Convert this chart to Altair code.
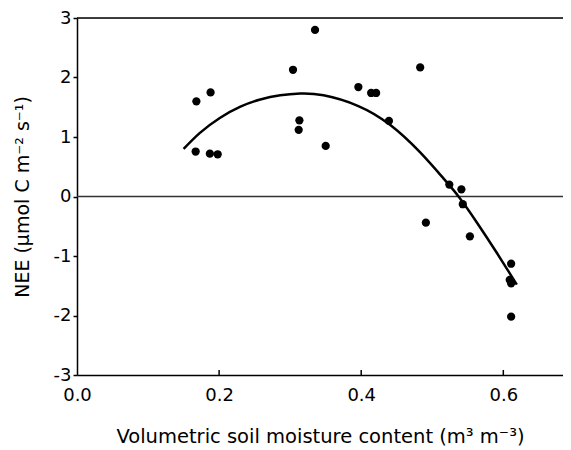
import altair as alt
import pandas as pd

# Observed data (volumetric soil moisture, NEE)
moisture = [0.168, 0.188, 0.167, 0.187, 0.198, 0.304, 0.313, 0.312, 0.335, 0.350,
            0.396, 0.414, 0.421, 0.439, 0.483, 0.491, 0.524, 0.541, 0.543, 0.553,
            0.611, 0.609, 0.611, 0.611]
nee = [1.60, 1.75, 0.756, 0.72, 0.71, 2.13, 1.28, 1.12, 2.80, 0.85,
       1.84, 1.74, 1.74, 1.27, 2.17, -0.44, 0.20, 0.12, -0.13, -0.67,
       -1.13, -1.40, -1.46, -2.02]

# Fitted curve
fit_x = [0.150, 0.173, 0.201, 0.230, 0.258, 0.286, 0.314, 0.347, 0.396, 0.441,
         0.483, 0.516, 0.537, 0.563, 0.591, 0.619]
fit_y = [0.80, 1.07, 1.32, 1.51, 1.63, 1.70, 1.73, 1.70, 1.52, 1.20,
         0.74, 0.30, 0.00, -0.44, -0.95, -1.48]

x_ticks = [0.2, 0.4, 0.6]
x_labels = [0.0, 0.2, 0.4, 0.6]
y_ticks = [-3, -2, -1, 0, 1, 2, 3]

df = pd.DataFrame({"x": moisture, "y": nee})
fit_df = pd.DataFrame({"x": fit_x, "y": fit_y})
tick_df = pd.DataFrame({"t": x_ticks})
zero_df = pd.DataFrame({"z": [0]})

FONT = "DejaVu Sans"
W, H = 486, 357

xscale = alt.Scale(domain=[0, 0.684], nice=False, zero=False)
yscale = alt.Scale(domain=[-3, 3], nice=False)

xaxis = alt.Axis(
    title="Volumetric soil moisture content (m³ m⁻³)",
    values=x_labels, format=".1f", ticks=False,
    labelPadding=11, labelFontSize=18, titleFontSize=19.5,
    labelFont=FONT, titleFont=FONT, labelColor="black", titleColor="black",
    titleFontWeight="normal", domainColor="black", domainWidth=1.5,
    grid=False, titleY=67, titleBaseline="alphabetic",
    labelFlush=False,
)
yaxis = alt.Axis(
    title="NEE (µmol C m⁻² s⁻¹)",
    values=y_ticks, tickSize=4, tickColor="black", tickWidth=1.5,
    labelExpr="datum.value < 0 ? '-' + abs(datum.value) : '' + datum.value",
    labelPadding=2, labelFontSize=18, titleFontSize=19,
    labelFont=FONT, titleFont=FONT, labelColor="black", titleColor="black",
    titleFontWeight="normal", domainColor="black", domainWidth=1.5,
    grid=False, titleX=-49, titleY=H / 2, titleAngle=-90,
    titleAlign="center", titleBaseline="alphabetic",
    labelFlush=False,
)

points = alt.Chart(df).mark_circle(size=68, color="black", opacity=1).encode(
    x=alt.X("x:Q", scale=xscale, axis=xaxis),
    y=alt.Y("y:Q", scale=yscale, axis=yaxis),
)

fit = alt.Chart(fit_df).mark_line(
    color="black", strokeWidth=2.5, interpolate="natural"
).encode(
    x=alt.X("x:Q", scale=xscale),
    y=alt.Y("y:Q", scale=yscale),
)

zero_line = alt.Chart(zero_df).mark_rule(color="#333333", strokeWidth=1.5).encode(
    y=alt.Y("z:Q", scale=yscale),
)

top_line = alt.Chart(zero_df).mark_rule(color="black", strokeWidth=1.5).encode(
    y=alt.value(0),
)

xticks = alt.Chart(tick_df).mark_rule(color="black", strokeWidth=1.5).encode(
    x=alt.X("t:Q", scale=xscale),
    y=alt.value(H - 5),
    y2=alt.value(H),
)

chart = alt.layer(zero_line, top_line, xticks, fit, points).properties(
    width=W, height=H,
    padding={"left": 69, "top": 10, "right": 0, "bottom": 72},
    autosize=alt.AutoSizeParams(type="none"),
).configure_view(stroke=None).configure(background="white")

chart.save("out.html", embed_options={"renderer": "svg", "actions": False})
